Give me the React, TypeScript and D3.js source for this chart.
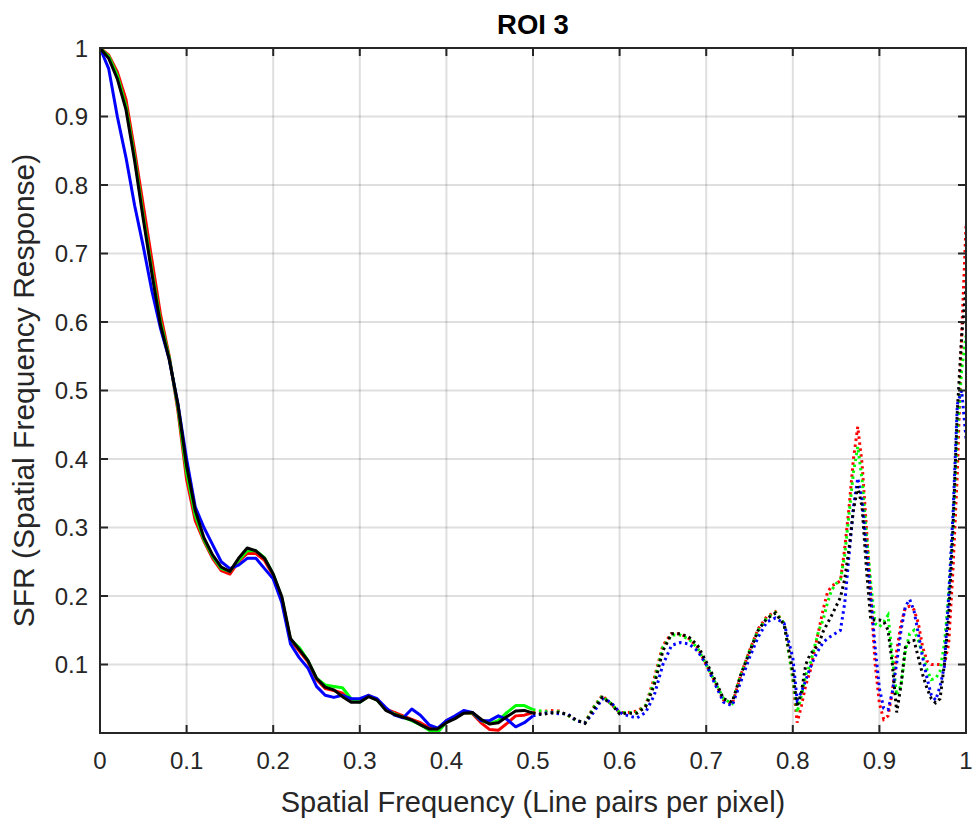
import React from "react";
import * as d3 from "d3";

const xs: number[] = [
  0, 0.01, 0.02, 0.03, 0.04, 0.05, 0.06, 0.07, 0.08, 0.09,
  0.1, 0.11, 0.12, 0.13, 0.14, 0.15, 0.16, 0.17, 0.18, 0.19,
  0.2, 0.21, 0.22, 0.23, 0.24, 0.25, 0.26, 0.27, 0.28, 0.29,
  0.3, 0.31, 0.32, 0.33, 0.34, 0.35, 0.36, 0.37, 0.38, 0.39,
  0.4, 0.41, 0.42, 0.43, 0.44, 0.45, 0.46, 0.47, 0.48, 0.49,
  0.5, 0.51, 0.52, 0.53, 0.54, 0.55, 0.56, 0.57, 0.58, 0.59,
  0.6, 0.61, 0.62, 0.63, 0.64, 0.65, 0.66, 0.67, 0.68, 0.69,
  0.7, 0.71, 0.72, 0.73, 0.74, 0.75, 0.76, 0.77, 0.78, 0.79,
  0.8, 0.805, 0.81, 0.815, 0.82, 0.825, 0.83, 0.835, 0.84, 0.845,
  0.85, 0.855, 0.86, 0.865, 0.87, 0.875, 0.88, 0.885, 0.89, 0.895,
  0.9, 0.905, 0.91, 0.915, 0.92, 0.925, 0.93, 0.935, 0.94, 0.945,
  0.95, 0.955, 0.96, 0.965, 0.97, 0.975, 0.98, 0.985, 0.99, 0.995, 1.0,
];

const redVals: number[] = [
  1.0, 0.99, 0.965, 0.925, 0.85, 0.77, 0.69, 0.61, 0.55, 0.47,
  0.37, 0.31, 0.28, 0.255, 0.237, 0.232, 0.25, 0.262, 0.262, 0.252,
  0.23, 0.195, 0.135, 0.12, 0.104, 0.078, 0.065, 0.062, 0.058, 0.047,
  0.046, 0.055, 0.048, 0.035, 0.03, 0.025, 0.02, 0.015, 0.008, 0.002,
  0.018, 0.024, 0.03, 0.028, 0.015, 0.005, 0.004, 0.014, 0.025, 0.026,
  0.03, 0.031, 0.033, 0.032, 0.026, 0.018, 0.015, 0.038, 0.055, 0.042,
  0.03, 0.03, 0.032, 0.04, 0.08, 0.128, 0.145, 0.145, 0.138, 0.125,
  0.1, 0.075, 0.048, 0.042, 0.085, 0.12, 0.152, 0.17, 0.177, 0.16,
  0.08, 0.015, 0.04, 0.07, 0.09, 0.12, 0.15, 0.18, 0.205, 0.215,
  0.218, 0.222, 0.27, 0.33, 0.4, 0.447, 0.393, 0.3, 0.2, 0.102,
  0.043, 0.02, 0.025, 0.06, 0.12, 0.16, 0.183, 0.185, 0.18, 0.16,
  0.125, 0.105, 0.1, 0.1, 0.1, 0.1, 0.13, 0.24, 0.38, 0.58, 0.74,
];

const greenVals: number[] = [
  1.0, 0.988, 0.96, 0.915, 0.84, 0.755, 0.675, 0.6, 0.548, 0.475,
  0.38, 0.318, 0.282, 0.258, 0.24, 0.236, 0.252, 0.266, 0.266, 0.256,
  0.232, 0.197, 0.136, 0.125, 0.106, 0.08, 0.07, 0.068, 0.066, 0.05,
  0.045, 0.054, 0.048, 0.034, 0.028, 0.023, 0.018, 0.012, 0.004, 0.001,
  0.016, 0.022, 0.03, 0.029, 0.018, 0.014, 0.018, 0.03, 0.04, 0.04,
  0.034, 0.032, 0.03, 0.031, 0.026, 0.018, 0.015, 0.037, 0.054, 0.043,
  0.03, 0.03, 0.03, 0.04, 0.075, 0.125, 0.143, 0.143, 0.137, 0.124,
  0.1, 0.075, 0.05, 0.043, 0.085, 0.12, 0.15, 0.168, 0.176, 0.16,
  0.08, 0.03, 0.055, 0.085, 0.1, 0.125, 0.15, 0.165, 0.19, 0.209,
  0.218, 0.224, 0.26, 0.32, 0.38, 0.418, 0.37, 0.29, 0.22, 0.16,
  0.155, 0.162, 0.172, 0.11, 0.055, 0.07, 0.12, 0.145, 0.15, 0.135,
  0.115, 0.092, 0.078, 0.08, 0.09, 0.13, 0.2, 0.3, 0.44, 0.53, 0.58,
];

const blueVals: number[] = [
  1.0, 0.97, 0.9, 0.84, 0.77, 0.71, 0.645, 0.59, 0.545, 0.48,
  0.4, 0.33, 0.3, 0.275, 0.25, 0.24, 0.245, 0.255, 0.255, 0.24,
  0.225, 0.19, 0.13, 0.11, 0.095, 0.068, 0.055, 0.052, 0.055, 0.05,
  0.05, 0.055, 0.05, 0.037, 0.026, 0.022, 0.035, 0.026, 0.012, 0.007,
  0.018, 0.025, 0.033, 0.03, 0.018, 0.018, 0.025, 0.02, 0.009, 0.015,
  0.025, 0.028, 0.03, 0.028, 0.028, 0.018, 0.015, 0.03, 0.05, 0.045,
  0.03, 0.025, 0.022, 0.03, 0.055, 0.1, 0.128, 0.132, 0.13, 0.12,
  0.1, 0.072, 0.045, 0.04, 0.075, 0.11, 0.14, 0.162, 0.168, 0.16,
  0.11, 0.048, 0.06, 0.077, 0.095, 0.11, 0.122, 0.132, 0.138, 0.142,
  0.146, 0.15, 0.19, 0.26, 0.33, 0.372, 0.34, 0.27, 0.2, 0.126,
  0.065, 0.036, 0.034, 0.06, 0.102, 0.15, 0.185, 0.195, 0.178, 0.145,
  0.11, 0.08, 0.055, 0.048, 0.068, 0.097, 0.2, 0.32, 0.48, 0.5, 0.43,
];

const blackVals: number[] = [
  1.0, 0.985, 0.955, 0.91, 0.835, 0.75, 0.67, 0.595, 0.545, 0.48,
  0.39, 0.325, 0.285, 0.26, 0.242, 0.236, 0.255, 0.27, 0.266, 0.255,
  0.232, 0.199, 0.138, 0.122, 0.106, 0.08, 0.067, 0.063, 0.053, 0.045,
  0.045, 0.053, 0.048, 0.033, 0.027, 0.023, 0.019, 0.012, 0.006, 0.006,
  0.015, 0.021, 0.029, 0.03, 0.02, 0.013, 0.015, 0.024, 0.032, 0.033,
  0.029, 0.027, 0.029, 0.03, 0.027, 0.019, 0.014, 0.035, 0.052, 0.043,
  0.028, 0.029, 0.029, 0.038, 0.07, 0.12, 0.145, 0.145, 0.14, 0.128,
  0.104, 0.078, 0.05, 0.045, 0.085, 0.118, 0.15, 0.167, 0.175, 0.158,
  0.09, 0.038, 0.06, 0.1, 0.115, 0.122, 0.13, 0.148, 0.16, 0.172,
  0.185, 0.198, 0.225, 0.27, 0.325, 0.36, 0.33, 0.24, 0.165, 0.165,
  0.165, 0.163, 0.15, 0.1, 0.03, 0.07, 0.125, 0.134, 0.135, 0.11,
  0.085, 0.065, 0.05, 0.044, 0.05, 0.1, 0.17, 0.3, 0.47, 0.58, 0.65,
];

const seriesNames = ["red", "green", "blue", "black"];
const seriesColors = ["#ff0000", "#00ff00", "#0000ff", "#000000"];
const seriesValues = [redVals, greenVals, blueVals, blackVals];

const xTicks = [0, 0.1, 0.2, 0.3, 0.4, 0.5, 0.6, 0.7, 0.8, 0.9, 1];
const yTicks = [0.1, 0.2, 0.3, 0.4, 0.5, 0.6, 0.7, 0.8, 0.9, 1];
const solidLimit = 0.5;

const W = 973;
const H = 825;
const L = 100;
const R = 966;
const T = 48;
const B = 733;
const axisColor = "#262626";
const FONT = "'Liberation Sans', Arial, Helvetica, sans-serif";

export default function App() {
  const x = d3.scaleLinear().domain([0, 1]).range([L, R]);
  const y = d3.scaleLinear().domain([0, 1]).range([B, T]);
  const line = d3
    .line<[number, number]>()
    .x((d) => x(d[0]))
    .y((d) => y(d[1]));

  const fmt = (v: number) => (v === 0 ? "0" : v === 1 ? "1" : String(v));

  return (
    <svg
      width={W}
      height={H}
      style={{ position: "absolute", left: 0, top: 0, background: "#fff" }}
      fontFamily={FONT}
    >
      <defs>
        <clipPath id="plotclip">
          <rect x={L} y={T - 2} width={R - L} height={B - T + 2} />
        </clipPath>
      </defs>
      <rect x={0} y={0} width={W} height={H} fill="#fff" />
      <g stroke={axisColor} strokeOpacity={0.15} strokeWidth={2}>
        {xTicks.map((t) => (
          <line key={"gx" + t} x1={x(t)} x2={x(t)} y1={T} y2={B} />
        ))}
        {yTicks.map((t) => (
          <line key={"gy" + t} x1={L} x2={R} y1={y(t)} y2={y(t)} />
        ))}
      </g>
      <g clipPath="url(#plotclip)" fill="none">
        {seriesValues.map((vals, i) => {
          const pts: [number, number][] = xs.map((xv, j) => [xv, vals[j]]);
          const solid = pts.filter((p) => p[0] <= solidLimit);
          const dotted = pts.filter((p) => p[0] >= solidLimit);
          return (
            <g key={seriesNames[i]}>
              <path
                d={line(solid) || ""}
                stroke={seriesColors[i]}
                strokeWidth={3}
                strokeLinejoin="round"
              />
              <path
                d={line(dotted) || ""}
                stroke={seriesColors[i]}
                strokeWidth={3}
                strokeDasharray="2.5,3.5"
              />
            </g>
          );
        })}
      </g>
      <rect
        x={L}
        y={T}
        width={R - L}
        height={B - T}
        fill="none"
        stroke={axisColor}
        strokeWidth={2}
      />
      <g stroke={axisColor} strokeWidth={2}>
        {xTicks.map((t) => (
          <g key={"tx" + t}>
            <line x1={x(t)} x2={x(t)} y1={B} y2={B - 8} />
            <line x1={x(t)} x2={x(t)} y1={T} y2={T + 8} />
          </g>
        ))}
        {yTicks.map((t) => (
          <g key={"ty" + t}>
            <line x1={L} x2={L + 8} y1={y(t)} y2={y(t)} />
            <line x1={R} x2={R - 8} y1={y(t)} y2={y(t)} />
          </g>
        ))}
      </g>
      <g fill={axisColor} fontSize={24}>
        {xTicks.map((t) => (
          <text key={"lx" + t} x={x(t)} y={B + 36} textAnchor="middle">
            {fmt(t)}
          </text>
        ))}
        {yTicks.map((t) => (
          <text
            key={"ly" + t}
            x={L - 12}
            y={y(t)}
            textAnchor="end"
            dominantBaseline="central"
          >
            {fmt(t)}
          </text>
        ))}
      </g>
      <text
        x={(L + R) / 2}
        y={34}
        textAnchor="middle"
        fontSize={27.5}
        fontWeight="bold"
        fill="#000"
      >
        ROI 3
      </text>
      <text
        x={(L + R) / 2}
        y={812}
        textAnchor="middle"
        fontSize={29}
        fill={axisColor}
      >
        Spatial Frequency (Line pairs per pixel)
      </text>
      <text
        transform={`translate(34, ${(T + B) / 2}) rotate(-90)`}
        textAnchor="middle"
        fontSize={30}
        fill={axisColor}
      >
        SFR (Spatial Frequency Response)
      </text>
    </svg>
  );
}
